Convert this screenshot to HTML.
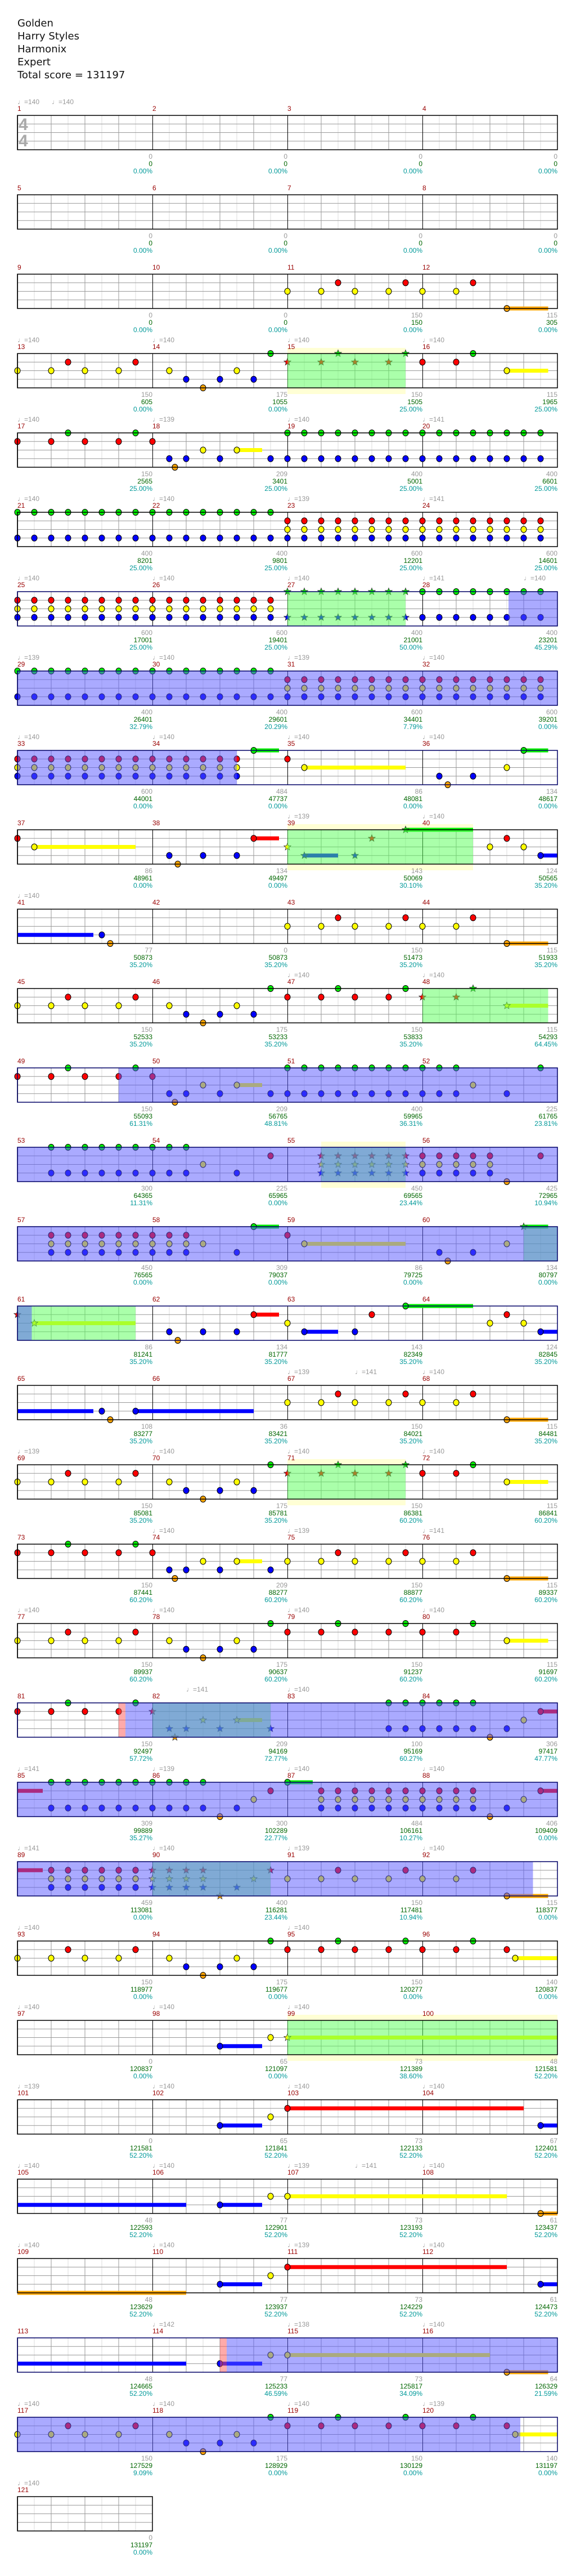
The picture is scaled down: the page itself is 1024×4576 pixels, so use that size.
<!DOCTYPE html>
<html><head><meta charset="utf-8">
<style>
html,body{margin:0;padding:0;background:#fff}
body{width:1024px;height:4576px;position:relative;overflow:hidden;font-family:"Liberation Sans","DejaVu Sans",sans-serif;font-size:12px;line-height:13px}
#svg{position:absolute;left:0;top:0}
.h{position:absolute;left:31px;top:30px;font-family:"DejaVu Sans","Liberation Sans",sans-serif;font-size:18px;line-height:23px;color:#111}
.r{position:absolute;left:0;width:1024px;height:0}
.r i{position:absolute;font-style:normal;white-space:nowrap}
.t{top:-30px;color:#999}
.m{top:-18px;color:#990000}
.s{position:absolute;margin:0;top:67px;width:240px;text-align:right;color:#999}
.s b{font-weight:normal;color:#006600;display:block}
.s u{text-decoration:none;color:#009999;display:block}
.c0{left:31px}.c1{left:271px}.c2{left:511px}.c3{left:751px}
.ts{position:absolute;left:33px;font-size:30px;line-height:30px;color:#aaa;font-weight:bold}
</style></head><body>
<svg id="svg" width="1024" height="4576" xmlns="http://www.w3.org/2000/svg">
<defs>
<pattern id="gp" patternUnits="userSpaceOnUse" width="240" height="61">
<line x1="30" y1="0" x2="30" y2="61" stroke="#ddd"/><line x1="90" y1="0" x2="90" y2="61" stroke="#ddd"/><line x1="150" y1="0" x2="150" y2="61" stroke="#ddd"/><line x1="210" y1="0" x2="210" y2="61" stroke="#ddd"/>
<line x1="60" y1="0" x2="60" y2="61" stroke="#999"/><line x1="120" y1="0" x2="120" y2="61" stroke="#999"/><line x1="180" y1="0" x2="180" y2="61" stroke="#999"/>
<line x1="0" y1="15.25" x2="240" y2="15.25" stroke="#999"/><line x1="0" y1="30.5" x2="240" y2="30.5" stroke="#999"/><line x1="0" y1="45.75" x2="240" y2="45.75" stroke="#999"/>
<line x1="0.5" y1="0" x2="0.5" y2="61" stroke="#000"/>
</pattern>
</defs>
<g id="gg"></g>
</svg>

<div class="h">Golden<br>Harry Styles<br>Harmonix<br>Expert<br>Total score = 131197</div>

<div class="r" style="top:205px"><i class="t" style="left:31px">♩=140</i><i class="t" style="left:92px">♩=140</i><i class="m c0">1</i><i class="m c1">2</i><i class="m c2">3</i><i class="m c3">4</i>
<span class="ts" style="top:2px">4</span><span class="ts" style="top:31px">4</span>
<p class="s c0">0<b>0</b><u>0.00%</u></p><p class="s c1">0<b>0</b><u>0.00%</u></p><p class="s c2">0<b>0</b><u>0.00%</u></p><p class="s c3">0<b>0</b><u>0.00%</u></p></div>

<div class="r" style="top:346px"><i class="m c0">5</i><i class="m c1">6</i><i class="m c2">7</i><i class="m c3">8</i>
<p class="s c0">0<b>0</b><u>0.00%</u></p><p class="s c1">0<b>0</b><u>0.00%</u></p><p class="s c2">0<b>0</b><u>0.00%</u></p><p class="s c3">0<b>0</b><u>0.00%</u></p></div>

<div class="r" style="top:487px"><i class="m c0">9</i><i class="m c1">10</i><i class="m c2">11</i><i class="m c3">12</i>
<p class="s c0">0<b>0</b><u>0.00%</u></p><p class="s c1">0<b>0</b><u>0.00%</u></p><p class="s c2">150<b>150</b><u>0.00%</u></p><p class="s c3">115<b>305</b><u>0.00%</u></p></div>

<div class="r" style="top:628px"><i class="t c0">♩=140</i><i class="t c1">♩=140</i><i class="t c2">♩=140</i><i class="t c3">♩=140</i><i class="m c0">13</i><i class="m c1">14</i><i class="m c2">15</i><i class="m c3">16</i>
<p class="s c0">150<b>605</b><u>0.00%</u></p><p class="s c1">175<b>1055</b><u>0.00%</u></p><p class="s c2">150<b>1505</b><u>25.00%</u></p><p class="s c3">115<b>1965</b><u>25.00%</u></p></div>

<div class="r" style="top:769px"><i class="t c0">♩=140</i><i class="t c1">♩=139</i><i class="t c2">♩=140</i><i class="t c3">♩=141</i><i class="m c0">17</i><i class="m c1">18</i><i class="m c2">19</i><i class="m c3">20</i>
<p class="s c0">150<b>2565</b><u>25.00%</u></p><p class="s c1">209<b>3401</b><u>25.00%</u></p><p class="s c2">400<b>5001</b><u>25.00%</u></p><p class="s c3">400<b>6601</b><u>25.00%</u></p></div>

<div class="r" style="top:910px"><i class="t c0">♩=140</i><i class="t c1">♩=140</i><i class="t c2">♩=139</i><i class="t c3">♩=141</i><i class="m c0">21</i><i class="m c1">22</i><i class="m c2">23</i><i class="m c3">24</i>
<p class="s c0">400<b>8201</b><u>25.00%</u></p><p class="s c1">400<b>9801</b><u>25.00%</u></p><p class="s c2">600<b>12201</b><u>25.00%</u></p><p class="s c3">600<b>14601</b><u>25.00%</u></p></div>

<div class="r" style="top:1051px"><i class="t c0">♩=140</i><i class="t c1">♩=140</i><i class="t c2">♩=140</i><i class="t c3">♩=141</i><i class="t" style="left:931px">♩=140</i><i class="m c0">25</i><i class="m c1">26</i><i class="m c2">27</i><i class="m c3">28</i>
<p class="s c0">600<b>17001</b><u>25.00%</u></p><p class="s c1">600<b>19401</b><u>25.00%</u></p><p class="s c2">400<b>21001</b><u>50.00%</u></p><p class="s c3">400<b>23201</b><u>45.29%</u></p></div>

<div class="r" style="top:1192px"><i class="t c0">♩=139</i><i class="t c1">♩=140</i><i class="t c2">♩=139</i><i class="t c3">♩=140</i><i class="m c0">29</i><i class="m c1">30</i><i class="m c2">31</i><i class="m c3">32</i>
<p class="s c0">400<b>26401</b><u>32.79%</u></p><p class="s c1">400<b>29601</b><u>20.29%</u></p><p class="s c2">600<b>34401</b><u>7.79%</u></p><p class="s c3">600<b>39201</b><u>0.00%</u></p></div>

<div class="r" style="top:1333px"><i class="t c0">♩=140</i><i class="t c1">♩=140</i><i class="t c2">♩=140</i><i class="t c3">♩=140</i><i class="m c0">33</i><i class="m c1">34</i><i class="m c2">35</i><i class="m c3">36</i>
<p class="s c0">600<b>44001</b><u>0.00%</u></p><p class="s c1">484<b>47737</b><u>0.00%</u></p><p class="s c2">86<b>48081</b><u>0.00%</u></p><p class="s c3">134<b>48617</b><u>0.00%</u></p></div>

<div class="r" style="top:1474px"><i class="t c2">♩=139</i><i class="t c3">♩=140</i><i class="m c0">37</i><i class="m c1">38</i><i class="m c2">39</i><i class="m c3">40</i>
<p class="s c0">86<b>48961</b><u>0.00%</u></p><p class="s c1">134<b>49497</b><u>0.00%</u></p><p class="s c2">143<b>50069</b><u>30.10%</u></p><p class="s c3">124<b>50565</b><u>35.20%</u></p></div>

<div class="r" style="top:1615px"><i class="t c0">♩=140</i><i class="m c0">41</i><i class="m c1">42</i><i class="m c2">43</i><i class="m c3">44</i>
<p class="s c0">77<b>50873</b><u>35.20%</u></p><p class="s c1">0<b>50873</b><u>35.20%</u></p><p class="s c2">150<b>51473</b><u>35.20%</u></p><p class="s c3">115<b>51933</b><u>35.20%</u></p></div>

<div class="r" style="top:1756px"><i class="t c2">♩=140</i><i class="t c3">♩=140</i><i class="m c0">45</i><i class="m c1">46</i><i class="m c2">47</i><i class="m c3">48</i>
<p class="s c0">150<b>52533</b><u>35.20%</u></p><p class="s c1">175<b>53233</b><u>35.20%</u></p><p class="s c2">150<b>53833</b><u>35.20%</u></p><p class="s c3">115<b>54293</b><u>64.45%</u></p></div>

<div class="r" style="top:1897px"><i class="m c0">49</i><i class="m c1">50</i><i class="m c2">51</i><i class="m c3">52</i>
<p class="s c0">150<b>55093</b><u>61.31%</u></p><p class="s c1">209<b>56765</b><u>48.81%</u></p><p class="s c2">400<b>59965</b><u>36.31%</u></p><p class="s c3">225<b>61765</b><u>23.81%</u></p></div>

<div class="r" style="top:2038px"><i class="m c0">53</i><i class="m c1">54</i><i class="m c2">55</i><i class="m c3">56</i>
<p class="s c0">300<b>64365</b><u>11.31%</u></p><p class="s c1">225<b>65965</b><u>0.00%</u></p><p class="s c2">450<b>69565</b><u>23.44%</u></p><p class="s c3">425<b>72965</b><u>10.94%</u></p></div>

<div class="r" style="top:2179px"><i class="m c0">57</i><i class="m c1">58</i><i class="m c2">59</i><i class="m c3">60</i>
<p class="s c0">450<b>76565</b><u>0.00%</u></p><p class="s c1">309<b>79037</b><u>0.00%</u></p><p class="s c2">86<b>79725</b><u>0.00%</u></p><p class="s c3">134<b>80797</b><u>0.00%</u></p></div>

<div class="r" style="top:2320px"><i class="m c0">61</i><i class="m c1">62</i><i class="m c2">63</i><i class="m c3">64</i>
<p class="s c0">86<b>81241</b><u>35.20%</u></p><p class="s c1">134<b>81777</b><u>35.20%</u></p><p class="s c2">143<b>82349</b><u>35.20%</u></p><p class="s c3">124<b>82845</b><u>35.20%</u></p></div>

<div class="r" style="top:2461px"><i class="t c2">♩=139</i><i class="t" style="left:631px">♩=141</i><i class="t c3">♩=140</i><i class="m c0">65</i><i class="m c1">66</i><i class="m c2">67</i><i class="m c3">68</i>
<p class="s c0">108<b>83277</b><u>35.20%</u></p><p class="s c1">36<b>83421</b><u>35.20%</u></p><p class="s c2">150<b>84021</b><u>35.20%</u></p><p class="s c3">115<b>84481</b><u>35.20%</u></p></div>

<div class="r" style="top:2602px"><i class="t c0">♩=139</i><i class="t c1">♩=140</i><i class="t c2">♩=140</i><i class="t c3">♩=140</i><i class="m c0">69</i><i class="m c1">70</i><i class="m c2">71</i><i class="m c3">72</i>
<p class="s c0">150<b>85081</b><u>35.20%</u></p><p class="s c1">175<b>85781</b><u>35.20%</u></p><p class="s c2">150<b>86381</b><u>60.20%</u></p><p class="s c3">115<b>86841</b><u>60.20%</u></p></div>

<div class="r" style="top:2743px"><i class="t c1">♩=140</i><i class="t c2">♩=139</i><i class="t c3">♩=141</i><i class="m c0">73</i><i class="m c1">74</i><i class="m c2">75</i><i class="m c3">76</i>
<p class="s c0">150<b>87441</b><u>60.20%</u></p><p class="s c1">209<b>88277</b><u>60.20%</u></p><p class="s c2">150<b>88877</b><u>60.20%</u></p><p class="s c3">115<b>89337</b><u>60.20%</u></p></div>

<div class="r" style="top:2884px"><i class="t c0">♩=140</i><i class="t c1">♩=140</i><i class="t c2">♩=140</i><i class="t c3">♩=140</i><i class="m c0">77</i><i class="m c1">78</i><i class="m c2">79</i><i class="m c3">80</i>
<p class="s c0">150<b>89937</b><u>60.20%</u></p><p class="s c1">175<b>90637</b><u>60.20%</u></p><p class="s c2">150<b>91237</b><u>60.20%</u></p><p class="s c3">115<b>91697</b><u>60.20%</u></p></div>

<div class="r" style="top:3025px"><i class="t" style="left:331px">♩=141</i><i class="t c2">♩=140</i><i class="m c0">81</i><i class="m c1">82</i><i class="m c2">83</i><i class="m c3">84</i>
<p class="s c0">150<b>92497</b><u>57.72%</u></p><p class="s c1">209<b>94169</b><u>72.77%</u></p><p class="s c2">100<b>95169</b><u>60.27%</u></p><p class="s c3">306<b>97417</b><u>47.77%</u></p></div>

<div class="r" style="top:3166px"><i class="t c0">♩=141</i><i class="t c1">♩=139</i><i class="t c2">♩=140</i><i class="t c3">♩=140</i><i class="m c0">85</i><i class="m c1">86</i><i class="m c2">87</i><i class="m c3">88</i>
<p class="s c0">309<b>99889</b><u>35.27%</u></p><p class="s c1">300<b>102289</b><u>22.77%</u></p><p class="s c2">484<b>106161</b><u>10.27%</u></p><p class="s c3">406<b>109409</b><u>0.00%</u></p></div>

<div class="r" style="top:3307px"><i class="t c0">♩=141</i><i class="t c1">♩=140</i><i class="t c2">♩=139</i><i class="t c3">♩=140</i><i class="m c0">89</i><i class="m c1">90</i><i class="m c2">91</i><i class="m c3">92</i>
<p class="s c0">459<b>113081</b><u>0.00%</u></p><p class="s c1">400<b>116281</b><u>23.44%</u></p><p class="s c2">150<b>117481</b><u>10.94%</u></p><p class="s c3">115<b>118377</b><u>0.00%</u></p></div>

<div class="r" style="top:3448px"><i class="t c0">♩=140</i><i class="t c2">♩=140</i><i class="m c0">93</i><i class="m c1">94</i><i class="m c2">95</i><i class="m c3">96</i>
<p class="s c0">150<b>118977</b><u>0.00%</u></p><p class="s c1">175<b>119677</b><u>0.00%</u></p><p class="s c2">150<b>120277</b><u>0.00%</u></p><p class="s c3">140<b>120837</b><u>0.00%</u></p></div>

<div class="r" style="top:3589px"><i class="t c0">♩=140</i><i class="t c1">♩=140</i><i class="t c2">♩=140</i><i class="m c0">97</i><i class="m c1">98</i><i class="m c2">99</i><i class="m c3">100</i>
<p class="s c0">0<b>120837</b><u>0.00%</u></p><p class="s c1">65<b>121097</b><u>0.00%</u></p><p class="s c2">73<b>121389</b><u>38.60%</u></p><p class="s c3">48<b>121581</b><u>52.20%</u></p></div>

<div class="r" style="top:3730px"><i class="t c0">♩=139</i><i class="t c1">♩=140</i><i class="t c2">♩=140</i><i class="t c3">♩=140</i><i class="m c0">101</i><i class="m c1">102</i><i class="m c2">103</i><i class="m c3">104</i>
<p class="s c0">0<b>121581</b><u>52.20%</u></p><p class="s c1">65<b>121841</b><u>52.20%</u></p><p class="s c2">73<b>122133</b><u>52.20%</u></p><p class="s c3">67<b>122401</b><u>52.20%</u></p></div>

<div class="r" style="top:3871px"><i class="t c0">♩=140</i><i class="t c1">♩=140</i><i class="t c2">♩=139</i><i class="t" style="left:631px">♩=141</i><i class="t c3">♩=140</i><i class="m c0">105</i><i class="m c1">106</i><i class="m c2">107</i><i class="m c3">108</i>
<p class="s c0">48<b>122593</b><u>52.20%</u></p><p class="s c1">77<b>122901</b><u>52.20%</u></p><p class="s c2">73<b>123193</b><u>52.20%</u></p><p class="s c3">61<b>123437</b><u>52.20%</u></p></div>

<div class="r" style="top:4012px"><i class="t c0">♩=140</i><i class="t c1">♩=140</i><i class="t c2">♩=139</i><i class="t c3">♩=140</i><i class="m c0">109</i><i class="m c1">110</i><i class="m c2">111</i><i class="m c3">112</i>
<p class="s c0">48<b>123629</b><u>52.20%</u></p><p class="s c1">77<b>123937</b><u>52.20%</u></p><p class="s c2">73<b>124229</b><u>52.20%</u></p><p class="s c3">61<b>124473</b><u>52.20%</u></p></div>

<div class="r" style="top:4153px"><i class="t c1">♩=142</i><i class="t c2">♩=138</i><i class="t c3">♩=140</i><i class="m c0">113</i><i class="m c1">114</i><i class="m c2">115</i><i class="m c3">116</i>
<p class="s c0">48<b>124665</b><u>52.20%</u></p><p class="s c1">77<b>125233</b><u>46.59%</u></p><p class="s c2">73<b>125817</b><u>34.09%</u></p><p class="s c3">64<b>126329</b><u>21.59%</u></p></div>

<div class="r" style="top:4294px"><i class="t c0">♩=140</i><i class="t c1">♩=140</i><i class="t c2">♩=140</i><i class="t c3">♩=139</i><i class="m c0">117</i><i class="m c1">118</i><i class="m c2">119</i><i class="m c3">120</i>
<p class="s c0">150<b>127529</b><u>9.09%</u></p><p class="s c1">175<b>128929</b><u>0.00%</u></p><p class="s c2">150<b>130129</b><u>0.00%</u></p><p class="s c3">140<b>131197</b><u>0.00%</u></p></div>

<div class="r" style="top:4435px"><i class="t c0">♩=140</i><i class="m c0">121</i>
<p class="s c0">0<b>131197</b><u>0.00%</u></p></div>

<script>
(function(){
var A="Y0 Y2 Y4 Y6 R3 R7 Y9 Y13 B10 B12 B14 O11 G15 ";
var C="Y16 Y18 Y20 Y22 Y24 Y26 R19 R23 R27 O29>31.45 ";
var D="R0 R2 R4 R6 R8 G3 G7 B9 B10 B12 B15 O9.33 Y11 Y13>14.5 ";
var rows={
2:[C,""],
3:[A+"*R16 *R18 *R20 *R22 *G19 *G23 R24 R26 G27 Y29>31.45","y16,23 g16,23"],
4:[D+"G16:31 B16:31",""],
5:["G0:15 B0:31 R16:31 Y16:31",""],
6:["R0:15 Y0:15 B0:15 *G16:23 *B16:23 G24:31 B24:31","g16,23 b29.1,32"],
7:["G0:15 B0:31 R16:31 Y16:31","b0,32"],
8:["R0:13 Y0:13 B0:13 G14>15.5 R16 Y17>23 B25 B27 O25.5 Y29 G30>31.45","b0,13"],
9:["R0 Y1>7 B9 B11 B13 O9.5 R14>15.5 *Y16 *B17>19 *B20 *R21 *G23>27 Y28 Y30 R29 B31>32","y16,27 g16,27"],
10:["B0~4.5 B5 O5.5 "+C,""],
11:[A+"R16 R18 R20 R22 G19 G23 *R24 *R26 *G27 *Y29>31.45","g24,31.45"],
12:["R0 R2 R4 R6 R8 G3 G7 Y11 Y13>14.5 B9 B10 B12 B15 B16:26 B29 G16:26 G31 Y27 O9.33","b6,32"],
13:["G2:10 B2:10 B13 Y11 R15 *R18:23 *Y18:23 *B18:23 R24:28 Y24:28 B24:28 O29 R31","y18,23 g18,23 b0,32"],
14:["R2:10 Y2:10 B2:10 Y11 B13 G14>15.5 R16 Y17>23 B25 B27 O25.5 Y29 *G30>31.45","g30,32 b0,32"],
15:["*R0 *Y1>7 B9 B11 B13 O9.5 R14>15.5 Y16 B17>19 B20 R21 G23>27 Y28 Y30 R29 B31>32","g0.85,7 b0,0.85 g0,0.85"],
16:["B0~4.5 B5 O5.5 B7>14 "+C,""],
17:[A+"*R16 *R18 *R20 *R22 *G19 *G23 R24 R26 G27 Y29>31.45","y16,23 g16,23"],
18:[D+C,""],
19:[A+"R16 R18 R20 R22 R24 R26 G19 G23 G27 Y29>31.45",""],
20:["R0 R2 R4 R6 G3 G7 *R8 *B9 *B10 *B12 *B15 *Y11 *Y13>14.5 *O9.33 G22:27 B22:27 B29 O28 Y30 R31>32","g8,15 p6,6.4 b6.4,32"],
21:["R0~1.5 G2:11 B2:11 B13 O12 Y14 R15 G16>17.5 R18:27 Y18:27 B18:27 O28 B29 Y30 R31>32","b0,32"],
22:["R0~1.5 R2:7 Y2:7 B2:7 *R8:11 *Y8:11 *B8:11 *O12 *B13 *Y14 *R15 "+C,"g8,15 b0,30.55"],
23:[A+"R16 R18 R20 R22 R24 R26 R29 G19 G23 G27 Y29.5>32",""],
24:["B12>14.5 Y15 *Y16>32","y16,32 g16,32"],
25:["B12>14.5 Y15 R16>30 B31>32",""],
26:["B0~10 B12>14.5 Y15 Y16>29 O31>32",""],
27:["O0~10 B12>14.5 Y15 R16>29 B31>32",""],
28:["B0~10 B12>14.5 Y15 Y16>28 O29>31.45","p12,12.4 b12.4,32"],
29:[A+"R16 R18 R20 R22 R24 R26 R29 G19 G23 G27 Y29.5>32","b0,29.8"]
};
var L={G:[0,"#00ee00"],R:[1,"#ff0000"],Y:[2,"#ffff00"],B:[3,"#0000ff"],O:[4,"#ffa500"]};
var LY=[0,15.25,30.5,45.75,61];
function star(cx,cy,col){var p=[];for(var i=0;i<10;i++){var a=-Math.PI/2+i*Math.PI/5,r=i%2?2.8:6.5;p.push((cx+r*Math.cos(a)).toFixed(1)+","+(cy+r*Math.sin(a)).toFixed(1));}
return '<polygon points="'+p.join(" ")+'" fill="'+col+'" stroke="#333" stroke-width="0.8"/>';}
var s="";
for(var r=0;r<=30;r++){
 var Y=205+141*r,W=(r==30)?240:960,X=31;
 var d=rows[r]||["",""];
 var ov=d[1]?d[1].split(" "):[];
 var back="",front="";
 ov.forEach(function(o){var t=o[0],ab=o.slice(1).split(","),a=X+30*parseFloat(ab[0]),b=X+30*parseFloat(ab[1]);
  if(t=="y")back+='<rect x="'+a+'" y="'+(Y-10)+'" width="'+(b-a)+'" height="82" fill="#ffffd5"/>';});
 s+=back+'<rect x="'+X+'" y="'+Y+'" width="'+W+'" height="61" fill="#fff"/>';
 s+='<g transform="translate('+X+','+Y+')"><rect x="0" y="0" width="'+W+'" height="61" fill="url(#gp)"/></g>';
 var sus="",heads="";
 (d[0]||"").trim().split(/\s+/).forEach(function(tk){
  if(!tk)return;
  var m=tk.match(/^(\*?)([GRYBO])([\d.]+)(?::([\d.]+))?(?:([>~])([\d.]+))?$/);if(!m)return;
  var st=m[1]=="*",ln=L[m[2]],a=parseFloat(m[3]),b=m[4]?parseFloat(m[4]):a;
  for(var p=a;p<=b+0.001;p+=1){
   var cx=X+30*p,cy=Y+LY[ln[0]];
   if(m[5]){var e=X+30*parseFloat(m[6]);sus+='<rect x="'+cx+'" y="'+(cy-3.5)+'" width="'+(e-cx)+'" height="7" fill="'+ln[1]+'"/>';}
   if(m[5]=="~")continue;
   heads+=st?star(cx,cy,ln[1]):'<ellipse cx="'+cx+'" cy="'+cy+'" rx="5" ry="5.5" fill="'+ln[1]+'" stroke="#000" stroke-width="1"/>';
  }
 });
 s+=sus+heads;
 ov.forEach(function(o){var t=o[0],ab=o.slice(1).split(","),a=X+30*parseFloat(ab[0]),b=X+30*parseFloat(ab[1]);
  if(t=="g")s+='<rect x="'+a+'" y="'+Y+'" width="'+(b-a)+'" height="61" fill="rgb(85,255,85)" fill-opacity="0.5"/>';});
 ov.forEach(function(o){var t=o[0],ab=o.slice(1).split(","),a=X+30*parseFloat(ab[0]),b=X+30*parseFloat(ab[1]);
  if(t=="b")s+='<rect x="'+a+'" y="'+Y+'" width="'+(b-a)+'" height="61" fill="rgb(85,85,255)" fill-opacity="0.5"/>';
  if(t=="p")s+='<rect x="'+a+'" y="'+Y+'" width="'+(b-a)+'" height="61" fill="rgb(255,85,85)" fill-opacity="0.5"/>';});
 var bc=(d[1]&&d[1].indexOf("b")>=0)?"#000066":"#000";
 s+='<rect x="'+X+'" y="'+Y+'" width="'+W+'" height="61" fill="none" stroke="'+bc+'" stroke-width="1.5"/>';
}
document.getElementById("gg").innerHTML=s;
})();
</script>
</body></html>
